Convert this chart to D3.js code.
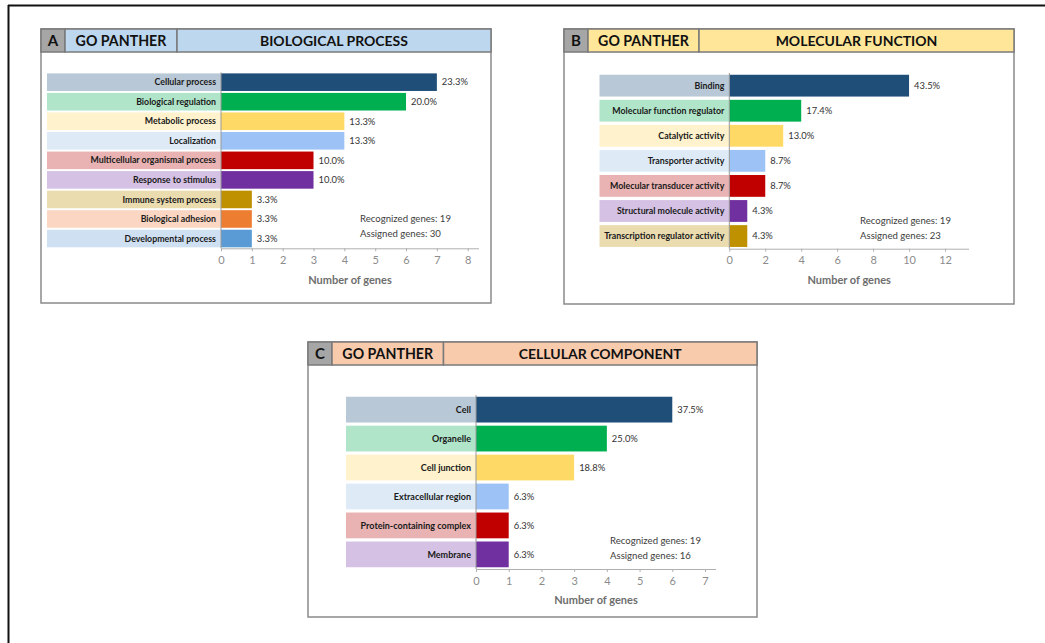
<!DOCTYPE html>
<html><head><meta charset="utf-8">
<script src="https://cdn.jsdelivr.net/npm/d3@7"></script>
<style>
html,body{margin:0;padding:0;background:#fff;}
svg{display:block;}
text{font-family:Lato,"Open Sans",sans-serif;}
</style></head>
<body>
<svg id="chart" width="1045" height="643"></svg>
<script>
// ---------- DATA ----------
const bpCategories = ["Cellular process","Biological regulation","Metabolic process","Localization","Multicellular organismal process","Response to stimulus","Immune system process","Biological adhesion","Developmental process"];
const bpValues = [7,6,4,4,3,3,1,1,1];
const bpPercents = ["23.3%","20.0%","13.3%","13.3%","10.0%","10.0%","3.3%","3.3%","3.3%"];
const bpTicks = [0,1,2,3,4,5,6,7,8];
const bpGenes = ["Recognized genes: 19","Assigned genes: 30"];

const mfCategories = ["Binding","Molecular function regulator","Catalytic activity","Transporter activity","Molecular transducer activity","Structural molecule activity","Transcription regulator activity"];
const mfValues = [10,4,3,2,2,1,1];
const mfPercents = ["43.5%","17.4%","13.0%","8.7%","8.7%","4.3%","4.3%"];
const mfTicks = [0,2,4,6,8,10,12];
const mfGenes = ["Recognized genes: 19","Assigned genes: 23"];

const ccCategories = ["Cell","Organelle","Cell junction","Extracellular region","Protein-containing complex","Membrane"];
const ccValues = [6,4,3,1,1,1];
const ccPercents = ["37.5%","25.0%","18.8%","6.3%","6.3%","6.3%"];
const ccTicks = [0,1,2,3,4,5,6,7];
const ccGenes = ["Recognized genes: 19","Assigned genes: 16"];

const panelLetters = ["A","B","C"];
const panelSource = "GO PANTHER";
const panelTitles = ["BIOLOGICAL PROCESS","MOLECULAR FUNCTION","CELLULAR COMPONENT"];
const axisTitle = "Number of genes";

// ---------- STYLES ----------
const bpBarColors = ["#1f4e79","#00b050","#ffd966","#9dc3f6","#c00000","#7030a0","#bf9000","#ed7d31","#5b9bd5"];
const bpBandColors = ["#b9c8d6","#b0e5c9","#fff2cc","#deebf7","#e9b3b3","#d4c1e4","#ebdcb0","#fbd6c2","#cfe0f3"];
const mfBarColors = ["#1f4e79","#00b050","#ffd966","#9dc3f6","#c00000","#7030a0","#bf9000"];
const mfBandColors = ["#b9c8d6","#b0e5c9","#fff2cc","#deebf7","#e9b3b3","#d4c1e4","#ebdcb0"];
const ccBarColors = ["#1f4e79","#00b050","#ffd966","#9dc3f6","#c00000","#7030a0"];
const ccBandColors = ["#b9c8d6","#b0e5c9","#fff2cc","#deebf7","#e9b3b3","#d4c1e4"];
const headerColors = ["#bdd7ee","#ffe699","#f8cbad"];

// ---------- LAYOUT ----------
const layouts = [
  {box:[41,29,491,303], hdr:52, c1:65, c2:177, bandL:47, x0:221, xMax:8, xAt:467.7, axEnd:479, yr:[72.4,248.3], pi:0.1, po:0.05,
   genesX:360, genesY:[219,234], bandFont:8.8},
  {box:[564,29,1014,304], hdr:52, c1:588, c2:699, bandL:599.5, x0:729.3, xMax:12, xAt:945, axEnd:969, yr:[73,248.7], pi:0.13, po:0.07,
   genesX:860, genesY:[221,236], bandFont:8.8},
  {box:[308,342,757,617], hdr:365, c1:332, c2:443.5, bandL:346, x0:476, xMax:7, xAt:705, axEnd:716, yr:[395,569], pi:0.11, po:0.06,
   genesX:610, genesY:[541,556], bandFont:9}
];

const panels = [
  {cats:bpCategories, vals:bpValues, pct:bpPercents, ticks:bpTicks, genes:bpGenes, bar:bpBarColors, band:bpBandColors},
  {cats:mfCategories, vals:mfValues, pct:mfPercents, ticks:mfTicks, genes:mfGenes, bar:mfBarColors, band:mfBandColors},
  {cats:ccCategories, vals:ccValues, pct:ccPercents, ticks:ccTicks, genes:ccGenes, bar:ccBarColors, band:ccBandColors}
];

const svg = d3.select("#chart");

// outer frame
svg.append("line").attr("x1",8).attr("x2",1045).attr("y1",5.5).attr("y2",5.5).attr("stroke","#111").attr("stroke-width",2);
svg.append("line").attr("x1",8.5).attr("x2",8.5).attr("y1",5).attr("y2",643).attr("stroke","#111").attr("stroke-width",2);

panels.forEach((p,i)=>{
  const L = layouts[i];
  const g = svg.append("g");
  const [bx0,by0,bx1,by1] = L.box;
  // box
  g.append("rect").attr("x",bx0).attr("y",by0).attr("width",bx1-bx0).attr("height",by1-by0)
    .attr("fill","#fff").attr("stroke","#8a8a8a").attr("stroke-width",1.5);
  // header cells
  g.append("rect").attr("x",bx0).attr("y",by0).attr("width",L.c1-bx0).attr("height",L.hdr-by0)
    .attr("fill","#a6a6a6").attr("stroke","#7a7a7a").attr("stroke-width",1.5);
  g.append("rect").attr("x",L.c1).attr("y",by0).attr("width",L.c2-L.c1).attr("height",L.hdr-by0)
    .attr("fill",headerColors[i]).attr("stroke","#7a7a7a").attr("stroke-width",1.5);
  g.append("rect").attr("x",L.c2).attr("y",by0).attr("width",bx1-L.c2).attr("height",L.hdr-by0)
    .attr("fill",headerColors[i]).attr("stroke","#7a7a7a").attr("stroke-width",1.5);
  const hy = (by0+L.hdr)/2;
  g.append("text").attr("x",(bx0+L.c1)/2).attr("y",hy).attr("dy","0.36em").attr("text-anchor","middle")
    .attr("font-size",15).attr("font-weight",700).attr("fill","#111").text(panelLetters[i]);
  g.append("text").attr("x",(L.c1+L.c2)/2).attr("y",hy).attr("dy","0.36em").attr("text-anchor","middle")
    .attr("font-size",14.2).attr("font-weight",700).attr("fill","#111").text(panelSource);
  g.append("text").attr("x",(L.c2+bx1)/2).attr("y",hy).attr("dy","0.36em").attr("text-anchor","middle")
    .attr("font-size",14).attr("font-weight",700).attr("fill","#111").text(panelTitles[i]);

  const x = d3.scaleLinear().domain([0,L.xMax]).range([L.x0,L.xAt]);
  const y = d3.scaleBand().domain(p.cats).range(L.yr).paddingInner(L.pi).paddingOuter(L.po);

  // label bands
  g.selectAll(".band").data(p.cats).join("rect")
    .attr("x",L.bandL).attr("y",d=>y(d)).attr("width",L.x0-L.bandL).attr("height",y.bandwidth())
    .attr("fill",(d,k)=>p.band[k]);
  g.selectAll(".blab").data(p.cats).join("text")
    .attr("x",L.x0-5).attr("y",d=>y(d)+y.bandwidth()/2).attr("dy","0.35em").attr("text-anchor","end")
    .attr("font-size",L.bandFont).attr("font-weight",700).attr("fill","#1a1a1a").text(d=>d);
  // bars
  g.selectAll(".bar").data(p.cats).join("rect")
    .attr("x",x(0)).attr("y",d=>y(d)).attr("width",(d,k)=>x(p.vals[k])-x(0)).attr("height",y.bandwidth())
    .attr("fill",(d,k)=>p.bar[k]);
  // value labels
  g.selectAll(".vlab").data(p.cats).join("text")
    .attr("x",(d,k)=>x(p.vals[k])+5).attr("y",d=>y(d)+y.bandwidth()/2).attr("dy","0.35em")
    .attr("font-size",9.4).attr("fill","#333").text((d,k)=>p.pct[k]);
  // vertical axis line
  g.append("line").attr("x1",L.x0).attr("x2",L.x0).attr("y1",L.yr[0]).attr("y2",L.yr[1])
    .attr("stroke","#9a9a9a").attr("stroke-width",1);
  // x axis
  const ax = g.append("g").attr("transform",`translate(0,${L.yr[1]})`)
    .call(d3.axisBottom(x).tickValues(p.ticks).tickFormat(d3.format("d")).tickSize(3).tickPadding(5).tickSizeOuter(0));
  ax.select(".domain").remove();
  ax.append("line").attr("x1",L.x0).attr("x2",L.axEnd).attr("y1",0.5).attr("y2",0.5).attr("stroke","#b0b0b0");
  ax.selectAll(".tick line").attr("stroke","#b0b0b0");
  ax.selectAll(".tick text").attr("font-size",11).attr("fill","#8c8c8c").attr("font-family","Lato, 'Open Sans', sans-serif");
  g.append("text").attr("x",(L.x0+L.axEnd)/2).attr("y",L.yr[1]+31.5).attr("dy","0.35em").attr("text-anchor","middle")
    .attr("font-size",11).attr("font-weight",700).attr("fill","#6e6e6e").text(axisTitle);
  // gene counts
  g.selectAll(".genes").data(p.genes).join("text")
    .attr("x",L.genesX).attr("y",(d,k)=>L.genesY[k]).attr("dy","0.35em")
    .attr("font-size",9.6).attr("fill","#404040").text(d=>d);
});
</script>
</body></html>
